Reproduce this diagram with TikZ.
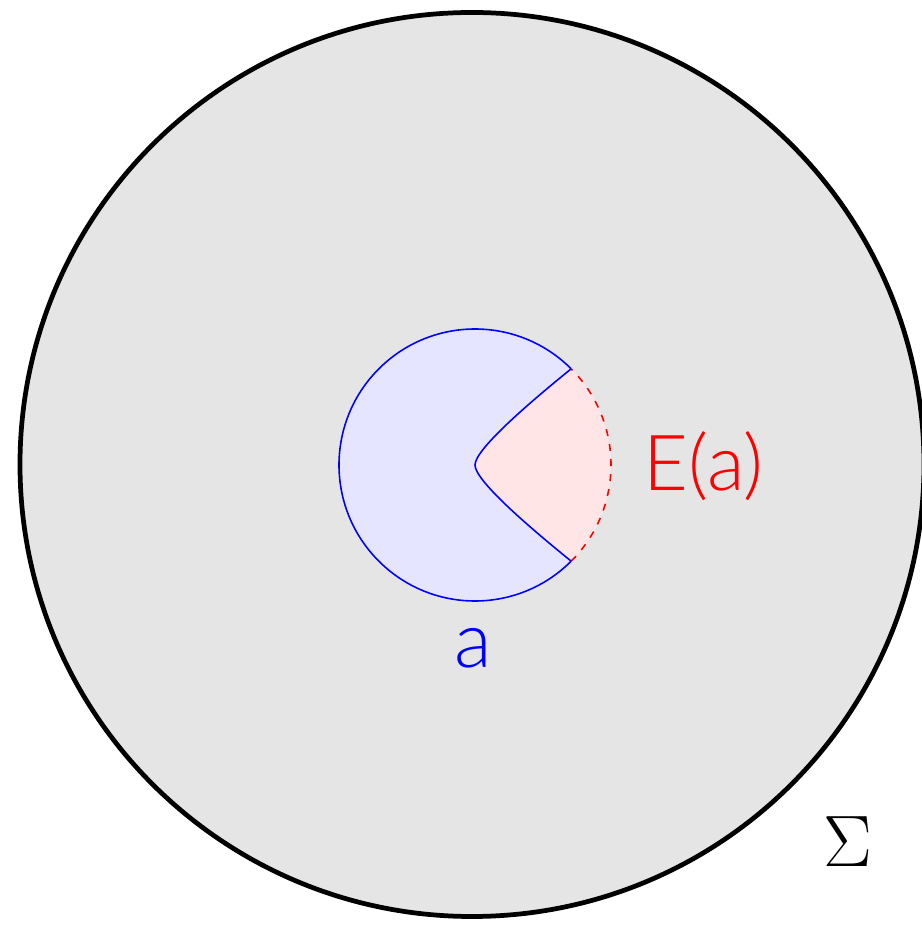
\documentclass[tikz,border=0pt]{standalone}
\usepackage{fontspec}
\newfontfamily\labelfont{Lato Light}
\usetikzlibrary{calc}
\begin{document}
\begin{tikzpicture}
  \tikzstyle{lbl}=[inner sep=0pt, font=\labelfont\fontsize{22}{26}\selectfont]
  \useasboundingbox (-4.72,-4.625) rectangle (4.50,4.645);

  % surface
  \coordinate (o) at (0,0);
  \fill[black!10] (o) circle (4.52);
  \draw[line width=1.35pt] (o) circle (4.52);

  % disc a and its part E(a)
  \coordinate (c) at (0.03,-0.005);
  \coordinate (p1) at ($(c)+(45:1.36)$);
  \coordinate (p2) at ($(c)+(-45:1.36)$);
  \fill[blue!10] (c) circle (1.36);
  \fill[red!10] (p1) to[out=-141, in=90, out distance=0.6cm, in distance=0.15cm] (c)
    to[out=-90, in=141, out distance=0.15cm, in distance=0.6cm] (p2)
    arc[start angle=-45, end angle=45, radius=1.36] -- cycle;
  \draw[blue, line width=0.45pt] (p1) arc[start angle=45, end angle=315, radius=1.36];
  \draw[red, line width=0.45pt, dash pattern=on 2pt off 2.3pt] (p2) arc[start angle=-45, end angle=45, radius=1.36];
  \draw[blue, line width=0.45pt] (p1) to[out=-141, in=90, out distance=0.6cm, in distance=0.15cm] (c)
    to[out=-90, in=141, out distance=0.15cm, in distance=0.6cm] (p2);

  \node[lbl, text=red, anchor=base west] (ea) at (1.71,-0.262) {E(a)};
  \node[lbl, text=blue, anchor=base] (a) at (0.01,-2.035) {a};
  \node[inner sep=0pt, anchor=base, font=\fontsize{22}{26}\selectfont] (sigma) at (3.76,-4.015) {$\Sigma$};
\end{tikzpicture}
\end{document}
